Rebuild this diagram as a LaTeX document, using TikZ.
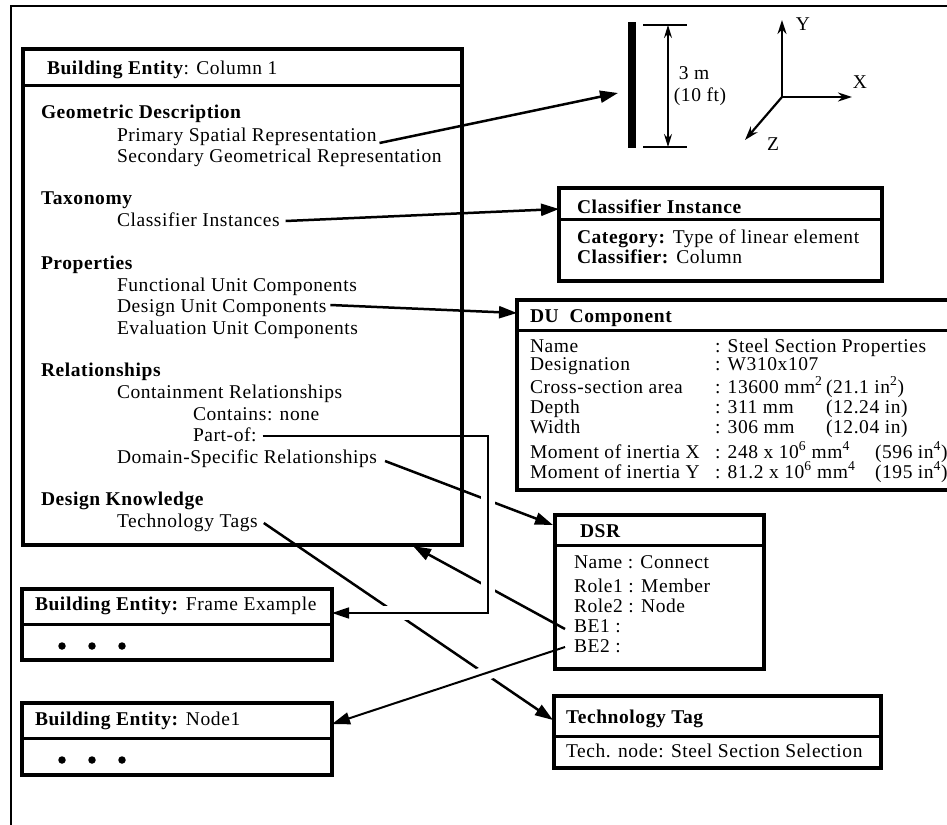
\documentclass[tikz,border=0pt]{standalone}
\usepackage{fontspec}
\setmainfont{Liberation Serif}[LetterSpace=3]
\usetikzlibrary{arrows.meta,calc}
\tikzset{
  box/.style={draw, line width=4pt, inner sep=0pt, outer sep=0pt, rectangle},
  divider/.style={line width=3pt},
  txt/.style={anchor=base west, inner sep=0pt, outer sep=0pt, font=\fontsize{19.5}{22}\selectfont},
  ctxt/.style={anchor=center, inner sep=0pt, outer sep=0pt, font=\fontsize{19.5}{22}\selectfont},
  conn/.style={line width=2.5pt, -{Triangle[length=18pt,width=12pt]}},
  halo/.style={draw=white, line width=14pt},
  thinline/.style={line width=1.6pt},
  axisline/.style={line width=2.2pt, -{Stealth[length=14pt,width=9pt]}},
  dimline/.style={line width=1.6pt, {Stealth[length=13pt,width=8pt]}-{Stealth[length=13pt,width=8pt]}},
  dotmark/.style={circle, fill, inner sep=0pt, minimum size=7.5pt},
}
\newcommand\umlbox[6]{%
  \node[box, minimum width={(#4-#2)*1pt}, minimum height={(#5-#3)*1pt}] (#1) at ({(#2+#4)/2},{(#3+#5)/2}) {};
  \draw[divider] (#1.west |- 0,#6) -- (#1.east |- 0,#6);}
\begin{document}
\begin{tikzpicture}[x=1pt,y=-1pt]
\useasboundingbox (0,0) rectangle (947,824);
\clip (0,0) rectangle (947,824);
\fill[white] (0,0) rectangle (947,824);
% outer frame
\draw[line width=2.2pt] (11,6) rectangle (975,850);

% main building entity box
\umlbox{be}{23}{49}{462}{545}{86}
\node[txt] (beh) at (47,75) {\textbf{Building Entity}: Column 1};
\node[txt] (gd) at (41,118) {\textbf{Geometric Description}};
\node[txt] (psr) at (117,141) {Primary Spatial Representation};
\node[txt] (sgr) at (117,162) {Secondary Geometrical Representation};
\node[txt] (tax) at (41,204) {\textbf{Taxonomy}};
\node[txt] (cli) at (117,226) {Classifier Instances};
\node[txt] (prop) at (41,269) {\textbf{Properties}};
\node[txt] (fuc) at (117,291) {Functional Unit Components};
\node[txt] (duc) at (117,312) {Design Unit Components};
\node[txt] (euc) at (117,334) {Evaluation Unit Components};
\node[txt] (rel) at (41,376) {\textbf{Relationships}};
\node[txt] (crel) at (117,398) {Containment Relationships};
\node[txt] (cont) at (193,420) {Contains: none};
\node[txt] (partof) at (193,441) {Part-of:};
\node[txt] (dsrel) at (117,463) {Domain-Specific Relationships};
\node[txt] (dk) at (41,505) {\textbf{Design Knowledge}};
\node[txt] (ttags) at (117,527) {Technology Tags};

% column sketch
\node[fill, minimum width=8pt, minimum height=126pt, inner sep=0pt] (colbar) at (632,85) {};
\coordinate (colTip) at (618,93);
\coordinate (dimT) at (668,25);
\coordinate (dimB) at (668,147);
\draw[thinline] (643,25) -- (687,25);
\draw[thinline] (643,147) -- (687,147);
\draw[dimline] (dimT) -- (dimB);
\node[ctxt] (h3m) at (694,73) {3 m};
\node[ctxt] (h10) at (700,97) {(10 ft)};

% axes
\coordinate (O) at (782,97);
\draw[axisline] (O) -- (782,20);
\draw[axisline] (O) -- (852,97);
\draw[axisline] (O) -- (745,140);
\node[ctxt] (ylab) at (803,24) {Y};
\node[ctxt] (xlab) at (860,82) {X};
\node[ctxt] (zlab) at (773,144) {Z};

% classifier instance
\umlbox{cib}{559}{188}{882}{281}{219}
\node[txt] (cih) at (577,213) {\textbf{Classifier Instance}};
\node[txt] (cic) at (577,243) {\textbf{Category:} Type of linear element};
\node[txt] (cicl) at (577,263) {\textbf{Classifier:} Column};

% DU component
\umlbox{dub}{517}{300}{975}{490}{330}
\node[txt] (duh) at (530,322) {\textbf{DU\ \ Component}};
\node[txt] (dun1) at (530,352) {Name};
\node[txt] (dun2) at (530,370) {Designation};
\node[txt] (dun3) at (530,393) {Cross-section area};
\node[txt] (dun4) at (530,413) {Depth};
\node[txt] (dun5) at (530,433) {Width};
\node[txt] (dun6) at (530,458) {Moment of inertia X};
\node[txt] (dun7) at (530,478) {Moment of inertia Y};
\node[txt] (duv1) at (715,352) {: Steel Section Properties};
\node[txt] (duv2) at (715,370) {: W310x107};
\node[txt] (duv3) at (715,393) {\makebox[111pt][l]{: 13600 mm\textsuperscript{2}}(21.1 in\textsuperscript{2})};
\node[txt] (duv4) at (715,413) {\makebox[111pt][l]{: 311 mm}(12.24 in)};
\node[txt] (duv5) at (715,433) {\makebox[111pt][l]{: 306 mm}(12.04 in)};
\node[txt] (duv6) at (715,458) {\makebox[160pt][l]{: 248 x 10\textsuperscript{6} mm\textsuperscript{4}}(596 in\textsuperscript{4})};
\node[txt] (duv7) at (715,478) {\makebox[160pt][l]{: 81.2 x 10\textsuperscript{6} mm\textsuperscript{4}}(195 in\textsuperscript{4})};

% DSR
\umlbox{dsrb}{555}{515}{764}{669}{545}
\node[txt] (dsrh) at (580,537) {\textbf{DSR}};
\node[txt] (dsr1) at (574,568) {Name : Connect};
\node[txt] (dsr2) at (574,592) {Role1 : Member};
\node[txt] (dsr3) at (574,612) {Role2 : Node};
\node[txt] (be1) at (574,632) {BE1 :};
\node[txt] (be2) at (574,652) {BE2 :};

% Frame example
\umlbox{feb}{22}{589}{332}{660}{624}
\node[txt] (feh) at (35,610) {\textbf{Building Entity:} Frame Example};
\node[dotmark] (fed1) at (62,646) {};
\node[dotmark] (fed2) at (92,646) {};
\node[dotmark] (fed3) at (122,646) {};

% Node1
\umlbox{nb}{22}{703}{332}{775}{738}
\node[txt] (nbh) at (35,725) {\textbf{Building Entity:} Node1};
\node[dotmark] (nbd1) at (62,760) {};
\node[dotmark] (nbd2) at (92,760) {};
\node[dotmark] (nbd3) at (122,760) {};

% Technology tag
\umlbox{ttb}{554}{696}{881}{768}{736}
\node[txt] (tth) at (566,723) {\textbf{Technology Tag}};
\node[txt] (ttv) at (566,757) {Tech. node: Steel Section Selection};

% connectors
\draw[conn] ($(psr.base east)+(3,2)$) -- (colTip);
\draw[conn] ($(cli.base east)+(6,-5)$) -- ($(cib.north west)+(0,21)$);
\draw[conn] ($(duc.base east)+(4,-7)$) -- ($(dub.north west)+(0,13)$);
\draw[conn] ($(ttags.base east)+(6,-4)$) -- ($(ttb.north west)+(-1,24)$);
\draw[conn] ($(dsrel.base east)+(8,-2)$) -- ($(dsrb.north west)+(-2,10)$);
\draw[conn] ($(be1.base west)+(-9,-3)$) -- ($(be.south west)+(390,1)$);

% part-of routing
\coordinate (pofS) at ($(partof.base east)+(6,-5)$);
\coordinate (pA) at (488,436);
\coordinate (pB) at (488,613);
\coordinate (pH) at (360,613);
\draw[halo] (pA) -- (pB) -- (pH);
\draw[thinline, -{Triangle[length=17pt,width=11pt]}] (pofS) -- (pofS -| pA) -- (pB) -- ($(feb.north east)+(0,24)$);

% BE2 arrow with halo
\path ($(be2.base west)+(-9,-5)$) -- ($(nb.north east)+(0,21)$)
  coordinate[pos=0.25] (bh1) coordinate[pos=0.45] (bh2);
\draw[halo] (bh1) -- (bh2);
\draw[conn, line width=2pt] ($(be2.base west)+(-9,-5)$) -- ($(nb.north east)+(0,21)$);
\end{tikzpicture}
\end{document}
